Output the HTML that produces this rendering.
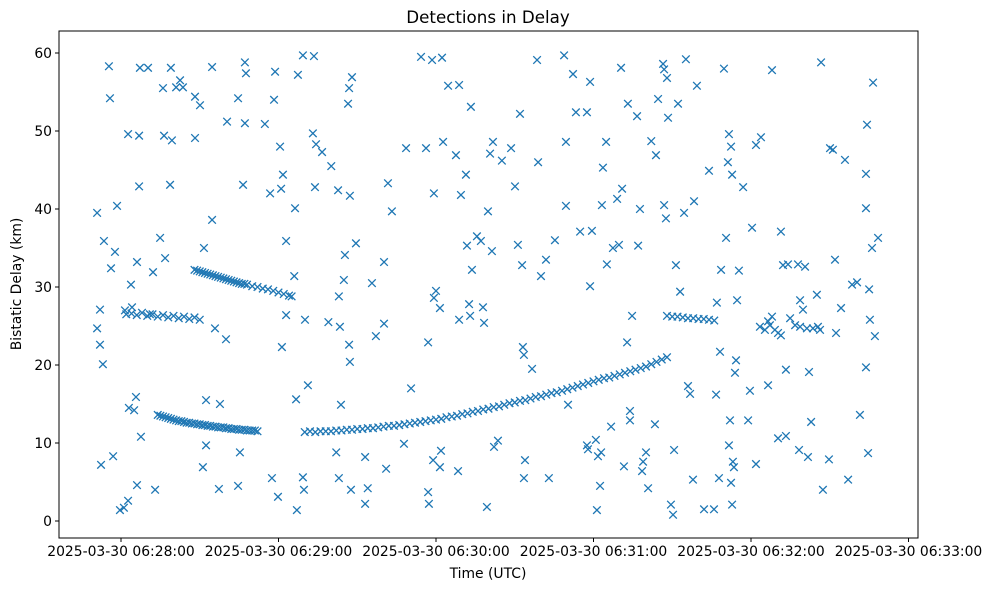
<!DOCTYPE html>
<html><head><meta charset="utf-8">
<style>
html,body{margin:0;padding:0;background:#fff;}
svg{display:block;font-family:"DejaVu Sans","Liberation Sans",sans-serif;}
</style></head>
<body>
<svg id="chart" width="988" height="590" viewBox="0 0 988 590" xmlns="http://www.w3.org/2000/svg">
<text x="488" y="23" text-anchor="middle" font-size="16.7">Detections in Delay</text>
<text x="488" y="578" text-anchor="middle" font-size="13.9">Time (UTC)</text>
<text transform="translate(21,284) rotate(-90)" text-anchor="middle" font-size="13.9">Bistatic Delay (km)</text>
<g id="marks"></g>
<g id="axes"></g>
</svg>
<script>
// seconds after 06:28:00
const xTickSeconds = [0, 60, 120, 180, 240, 300];
const xTickLabels = ["2025-03-30 06:28:00","2025-03-30 06:29:00","2025-03-30 06:30:00","2025-03-30 06:31:00","2025-03-30 06:32:00","2025-03-30 06:33:00"];
const yTickValues = [0, 10, 20, 30, 40, 50, 60];

const trackTimes = [14,15,16,17,18,19,20,21,22,23,24,25,26,27,28,29,30,31,32,33,34,35,36,37,38,39,40,41,42,43,44,45,46,47,48,49,50,51,52,
28,29,30,31,32,33,34,35,36,37,38,39,40,41,42,43,44,45,46,47,48,50,52,54,56,58,60,62,64,65,
2,4,6,8,10,12,14,16,18,20,22,24,26,28,30,
208,210,212,214,216,218,220,222,224,226,
70,72,74,76,78,80,82,84,86,88,90,92,94,96,98,100,102,104,106,108,110,112,114,116,118,120,122,124,126,128,130,132,134,136,138,140,142,144,146,148,150,152,154,156,158,160,162,164,166,168,170,172,174,176,178,180,182,184,186,188,190,192,194,196,198,200,202,204,206,208];
const trackDelays = [13.6,13.5,13.4,13.3,13.2,13.1,13.0,12.9,12.8,12.8,12.7,12.6,12.6,12.5,12.5,12.4,12.4,12.3,12.3,12.2,12.2,12.1,12.1,12.0,12.0,12.0,11.9,11.9,11.8,11.8,11.8,11.7,11.7,11.7,11.6,11.6,11.6,11.6,11.5,
32.2,32.1,32.0,31.9,31.8,31.7,31.6,31.5,31.4,31.3,31.2,31.1,31.0,30.9,30.8,30.7,30.6,30.5,30.4,30.4,30.3,30.1,30.0,29.8,29.7,29.5,29.3,29.1,28.9,28.8,
26.5,26.6,26.4,26.7,26.3,26.5,26.2,26.4,26.1,26.3,26.0,26.2,25.9,26.1,25.8,
26.3,26.2,26.2,26.1,26.0,26.0,25.9,25.9,25.8,25.7,
11.4,11.5,11.4,11.5,11.5,11.5,11.6,11.6,11.7,11.7,11.8,11.8,11.9,11.9,12.0,12.1,12.2,12.2,12.3,12.4,12.5,12.6,12.7,12.8,12.9,13.0,13.1,13.3,13.4,13.5,13.7,13.8,14.0,14.1,14.3,14.4,14.6,14.7,14.9,15.1,15.2,15.4,15.5,15.7,15.9,16.0,16.2,16.4,16.5,16.7,16.9,17.1,17.3,17.5,17.7,17.9,18.1,18.3,18.4,18.6,18.8,19.0,19.2,19.4,19.6,19.8,20.1,20.4,20.7,21.0];

const scatterTimes = [-9.1,-9.1,-8,-7.6,-6.9,-8,-6.5,-4.6,-4.2,-3.8,-2.3,-1.5,-3,-0.4,1.1,1.5,2.7,2.7,3,3.8,4.2,5,5.7,6.1,6.9,6.9,6.1,7.6,7.2,10.3,11,12.2,13,14.9,16,16.4,16.8,18.7,19,19.4,21,22.5,23.6,28.2,28.2,30.1,31.6,31.2,32.4,32.4,34.7,34.7,35.8,37.3,37.7,40,40.4,44.6,44.6,45.3,46.5,47.2,47.2,47.6,54.8,56.8,57.5,58.3,58.7,61,61.7,59.8,60.6,61.3,62.9,62.9,66,66.3,66.7,67,67.4,69.3,69.3,69.7,70.1,71.2,73.1,73.5,73.9,74.3,76.6,79,80.1,82,82.7,83,83,83.4,83.8,84.9,85.3,86.5,86.9,88,87.2,86.9,87.2,87.6,89.5,93,93,94,95.6,97.1,100.2,100.2,101.7,101,103.2,107.8,108.6,110.5,114.3,116.2,117,117,117.3,118.5,118.9,119.2,119.2,120,121.5,121.5,121.9,122.3,122.7,124.6,127.6,128.4,128.8,128.8,129.5,131.4,131.8,132.6,133,133.3,133.7,135.6,137.1,137.9,138.3,139.4,139.8,140.6,141.3,141.7,142.1,143.6,145.1,148.6,150.1,151.2,152,152.8,153.1,153.5,153.9,153.5,156.6,158.5,158.9,160,161.9,163,165.3,168.8,169.5,170.3,169.5,172.2,173.3,174.9,177.5,177.5,177.9,178.7,178.7,179.4,180.9,181.3,181.7,182.5,182.9,183.6,183.2,184.8,185.1,186.7,187.4,189,189.7,190.5,190.9,191.6,192.8,193.1,193.9,193.9,194.7,196.6,197,197.7,198.5,198.9,200,200.8,202,203.4,203.8,204.6,206.5,206.9,206.9,207.6,208,208.4,209.5,210.3,210.7,211.4,212.2,213,214.5,215.2,216,216.8,217.9,218.3,219.4,222.1,224,225.9,226.7,227,227.8,228.2,228.6,229.7,230.5,231.2,231.6,232.4,232.8,232,231.6,232.4,233.1,233.5,233.9,234.3,234.7,235.4,232.8,237,238.9,239.6,240.4,241.9,241.9,243.8,246.5,248,250.3,251.4,252.2,253.3,253.3,254.1,254.9,257.9,258.3,258.7,259.8,260.6,261.7,262.1,262.9,265.1,266.7,267.4,269.7,270.1,271.2,272,272.4,274.3,275.8,277,278.5,280.4,281.5,283.8,283.8,283.8,284.2,284.6,285,285.3,286.5,286.1,287.2,288.4,
243.4,245.3,247.2,249.1,250.3,256.8,258.7,261.3,263.6,265.5,266.3,246.5,248,251.4];
const scatterDelays = [24.7,39.5,22.6,7.2,20.1,27.1,35.9,58.3,54.2,32.4,34.5,40.4,8.3,1.4,1.7,27,49.6,2.6,14.5,30.3,27.4,14.2,15.9,33.2,49.4,42.9,4.6,10.8,58.1,58.1,26.5,31.9,4,36.3,55.5,49.4,33.7,43.1,58.1,48.8,55.6,56.5,55.6,54.4,49.1,53.3,35,6.9,9.7,15.5,58.2,38.6,24.7,4.1,15,23.3,51.2,54.2,4.5,8.8,43.1,58.8,51,57.4,50.9,42,5.5,54,57.6,42.6,44.4,3.1,48,22.3,35.9,26.4,31.4,40.1,15.6,1.4,57.2,59.7,5.6,4,25.8,17.4,49.7,59.6,42.8,48.3,47.3,25.5,45.5,8.8,42.4,28.8,5.5,24.9,14.9,30.9,34.1,53.5,55.5,56.9,41.7,22.6,20.4,4,35.6,2.2,8.2,4.2,30.5,23.7,25.3,33.2,43.3,6.7,39.7,9.9,47.8,17,59.5,47.8,22.9,3.7,2.2,59.1,7.8,28.6,42,29.5,6.9,27.3,9,59.4,48.6,55.8,46.9,6.4,25.8,55.9,41.8,44.4,35.3,27.8,26.3,53.1,32.2,36.5,35.9,27.4,25.4,1.8,39.7,47.1,34.6,48.6,9.5,10.3,46.2,47.8,42.9,35.4,52.2,32.8,22.3,5.5,7.8,21.3,19.5,59.1,46,31.4,33.5,5.5,36,59.7,48.6,14.9,40.4,57.3,52.4,37.1,52.4,9.7,9.2,56.3,30.1,37.2,10.4,1.4,8.3,4.5,8.8,45.3,40.5,48.6,32.9,12.1,35,41.3,35.4,58.1,42.6,7,22.9,53.5,14.1,12.9,26.3,51.9,35.3,40,6.4,7.6,8.8,4.2,48.7,12.4,46.9,54.1,58.6,57.9,40.5,38.8,56.8,51.7,2.1,0.8,9.1,32.8,53.5,29.4,39.5,59.2,17.3,16.3,5.3,41,55.8,1.5,44.9,1.5,16.2,28,5.5,21.7,32.2,58,36.3,46,49.6,48,44.4,12.9,9.7,4.9,7.6,6.9,19,20.6,28.3,32.1,2.1,42.8,12.9,16.7,37.6,48.2,7.3,49.2,17.4,57.8,10.6,37.1,32.8,10.9,19.4,32.9,26,32.9,9.1,28.3,27.1,32.6,8.2,19.1,12.7,29,58.8,4,7.9,47.8,47.6,33.5,24.1,27.3,46.3,5.3,30.3,30.6,13.6,19.7,44.5,40.1,50.8,8.7,29.7,25.8,56.2,35,23.7,36.3,
24.9,24.5,25.1,24.5,24.1,25.1,24.9,24.7,24.7,24.9,24.5,25.6,26.2,23.8];

const L=59, R=918, T=31, B=538;
function xScale(s){ return 121 + s*157.5/60; }
function yScale(v){ return 521 - v*7.8; }
const NS="http://www.w3.org/2000/svg";
const marks=document.getElementById('marks');
const axes=document.getElementById('axes');

function drawX(t,v){
  const x=xScale(t), y=yScale(v), r=3.8;
  const p=document.createElementNS(NS,'path');
  p.setAttribute('d',`M${x-r},${y-r}L${x+r},${y+r}M${x-r},${y+r}L${x+r},${y-r}`);
  p.setAttribute('stroke','#1f77b4');
  p.setAttribute('stroke-width','1.3');
  p.setAttribute('fill','none');
  
  
  marks.appendChild(p);
}
for(let i=0;i<trackTimes.length;i++) drawX(trackTimes[i],trackDelays[i]);
for(let i=0;i<scatterTimes.length;i++) drawX(scatterTimes[i],scatterDelays[i]);

const frame=document.createElementNS(NS,'rect');
frame.setAttribute('x',L);frame.setAttribute('y',T);
frame.setAttribute('width',R-L);frame.setAttribute('height',B-T);
frame.setAttribute('fill','none');frame.setAttribute('stroke','#000');frame.setAttribute('stroke-width','1');


axes.appendChild(frame);

xTickSeconds.forEach((s,i)=>{
  const x=xScale(s);
  const ln=document.createElementNS(NS,'line');
  ln.setAttribute('x1',x);ln.setAttribute('x2',x);ln.setAttribute('y1',B);ln.setAttribute('y2',B+4);
  ln.setAttribute('stroke','#000');
  
  
  axes.appendChild(ln);
  const tx=document.createElementNS(NS,'text');
  tx.setAttribute('x',x);tx.setAttribute('y',B+18);tx.setAttribute('text-anchor','middle');tx.setAttribute('font-size','13.9');
  tx.textContent=xTickLabels[i];
  
  
  axes.appendChild(tx);
});
yTickValues.forEach(v=>{
  const y=yScale(v);
  const ln=document.createElementNS(NS,'line');
  ln.setAttribute('x1',L-4);ln.setAttribute('x2',L);ln.setAttribute('y1',y);ln.setAttribute('y2',y);
  ln.setAttribute('stroke','#000');
  
  
  axes.appendChild(ln);
  const tx=document.createElementNS(NS,'text');
  tx.setAttribute('x',L-7);tx.setAttribute('y',y+5);tx.setAttribute('text-anchor','end');tx.setAttribute('font-size','13.9');
  tx.textContent=String(v);
  
  
  axes.appendChild(tx);
});
</script>
</body></html>
